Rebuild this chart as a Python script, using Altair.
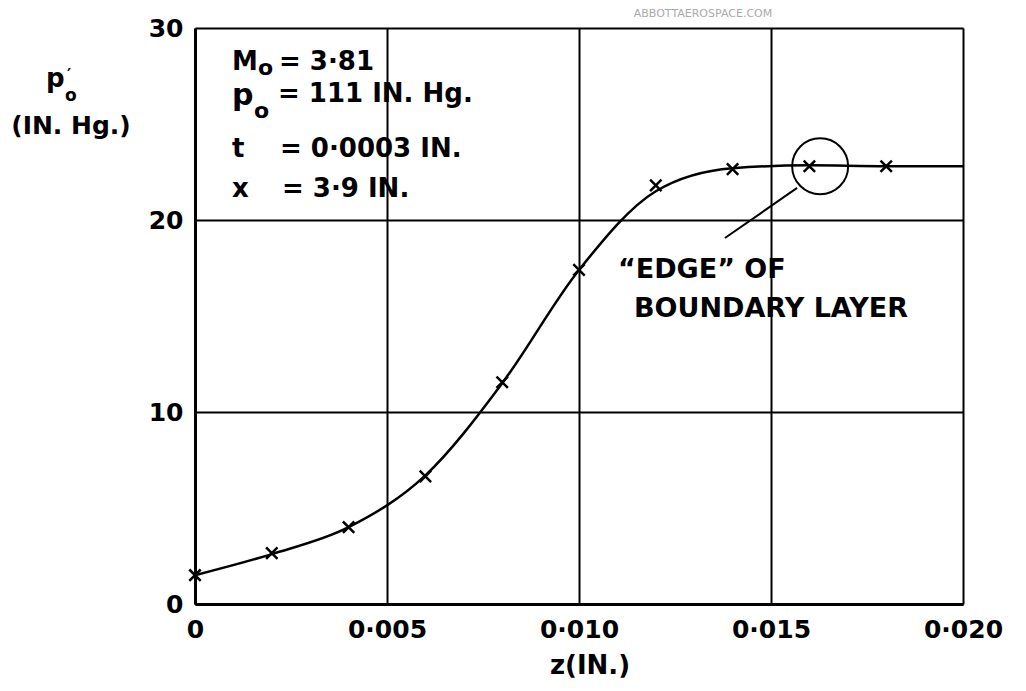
import altair as alt
import pandas as pd

# ---- data ----
z_pts = [0.0, 0.002, 0.004, 0.006, 0.008, 0.010, 0.012, 0.014, 0.016, 0.018]
p_pts = [1.5, 2.65, 4.0, 6.65, 11.55, 17.4, 21.8, 22.65, 22.8, 22.8]

curve_z = [0.0, 0.002, 0.004, 0.006, 0.008, 0.010, 0.012, 0.014, 0.016, 0.018, 0.020]
curve_p = [1.5, 2.6, 4.0, 6.7, 11.5, 17.4, 21.5, 22.7, 22.85, 22.8, 22.8]

circle_z = [0.01628]
circle_p = [22.8]

leader_z = [0.01568]
leader_p = [21.67]
leader_z2 = [0.0138]
leader_p2 = [19.06]

x_ticks = [0.0, 0.005, 0.010, 0.015, 0.020]
y_ticks = [0, 10, 20, 30]

FONT = "DejaVu Sans"

xs = alt.Scale(domain=[0, 0.02], nice=False, zero=False)
ys = alt.Scale(domain=[0, 30], nice=False)

x_axis = alt.Axis(
    values=x_ticks,
    labelExpr="datum.value == 0 ? '0' : replace(format(datum.value, '.3f'), '.', '·')",
    grid=True, gridColor="black", gridWidth=2,
    domain=True, domainColor="black", domainWidth=3,
    ticks=False, tickSize=0,
    labelFontSize=25, labelFontWeight="bold", labelPadding=13, labelColor="black",
    labelFont=FONT, labelOverlap=False, labelFlush=False,
    title=None,
)
y_axis = alt.Axis(
    values=y_ticks,
    grid=True, gridColor="black", gridWidth=2,
    domain=True, domainColor="black", domainWidth=3,
    ticks=False, tickSize=0,
    labelFontSize=25, labelFontWeight="bold", labelPadding=12, labelColor="black",
    labelFont=FONT, labelOverlap=False, labelFlush=False,
    title=None,
)

curve = alt.Chart(pd.DataFrame({"z": curve_z, "p": curve_p})).mark_line(
    color="black", strokeWidth=2.5, interpolate="monotone"
).encode(
    x=alt.X("z:Q", scale=xs, axis=x_axis),
    y=alt.Y("p:Q", scale=ys, axis=y_axis),
)

points = alt.Chart(pd.DataFrame({"z": z_pts, "p": p_pts})).mark_point(
    shape="M-1,-1L1,1M-1,1L1,-1", size=130, filled=False,
    color="black", strokeWidth=2.5, opacity=1
).encode(x=alt.X("z:Q", scale=xs), y=alt.Y("p:Q", scale=ys))

circle = alt.Chart(pd.DataFrame({"z": circle_z, "p": circle_p})).mark_point(
    shape="circle", size=3136, filled=False, color="black",
    strokeWidth=2, opacity=1
).encode(x=alt.X("z:Q", scale=xs), y=alt.Y("p:Q", scale=ys))

leader = alt.Chart(pd.DataFrame({"z": leader_z, "p": leader_p,
                                 "z2": leader_z2, "p2": leader_p2})).mark_rule(
    color="black", strokeWidth=2
).encode(
    x=alt.X("z:Q", scale=xs), y=alt.Y("p:Q", scale=ys),
    x2="z2:Q", y2="p2:Q",
)

# plot origin on the page is (195, 28); positions below are page pixels
def label(text, px, py, size=26, align="left", color="black", weight="bold"):
    return alt.Chart(pd.DataFrame({"t": [text]})).mark_text(
        align=align, baseline="alphabetic", fontSize=size, font=FONT,
        color=color, fontWeight=weight
    ).encode(x=alt.value(px - 195), y=alt.value(py - 28), text="t:N")

texts = [
    # parameter box
    label("M", 232, 70),
    label("o", 258, 75, size=22),
    label("= 3·81", 279, 70),
    label("p", 232, 105, size=30),
    label("o", 254, 118, size=22),
    label("= 111 IN. Hg.", 278, 102),
    label("t", 232, 157),
    label("= 0·0003 IN.", 280, 157),
    label("x", 232, 197),
    label("= 3·9 IN.", 282, 197),
    # boundary layer annotation
    label("“EDGE” OF", 618, 278, size=27),
    label("BOUNDARY LAYER", 634, 317, size=27),
    # y-axis title
    label("p", 46, 87, size=26),
    label("′", 67, 80, size=16),
    label("o", 65, 101, size=17),
    label("(IN. Hg.)", 71, 134, size=25, align="center"),
    # x-axis title
    label("z(IN.)", 590, 674, size=26, align="center"),
    # watermark
    label("ABBOTTAEROSPACE.COM", 703, 17, size=11, align="center",
          color="#aaaaaa", weight="normal"),
]

chart = alt.layer(curve, points, circle, leader, *texts).properties(
    width=768, height=576,
    autosize=alt.AutoSizeParams(type="none"),
    padding={"left": 187, "top": 20, "right": 55, "bottom": 75},
).configure_view(
    stroke="black", strokeWidth=2
).configure(
    font=FONT, background="white"
)

chart.save("out.html", embed_options={"renderer": "svg", "actions": False})
